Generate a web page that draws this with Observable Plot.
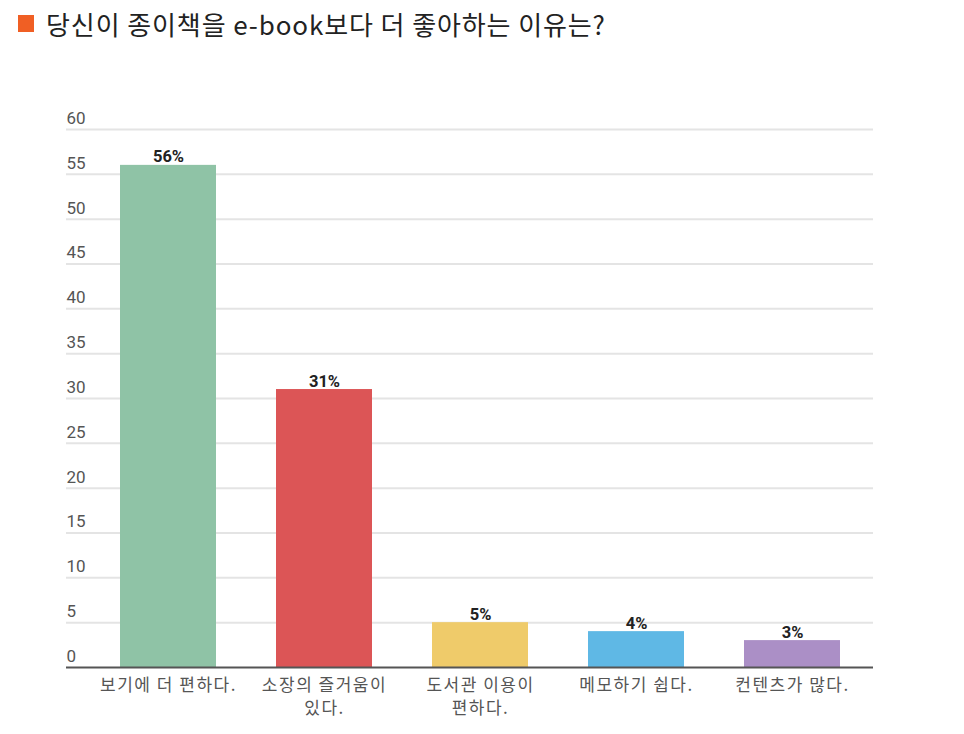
<!DOCTYPE html>
<html>
<head>
<meta charset="utf-8">
<script src="https://cdn.jsdelivr.net/npm/d3@7"></script>
<script src="https://cdn.jsdelivr.net/npm/@observablehq/plot@0.6"></script>
<style>
  body { margin: 0; background: #fff; font-family: "Noto Sans CJK KR", "Noto Sans", sans-serif; }
  .title { height: 46px; display: flex; align-items: center; padding-left: 18px; box-sizing: border-box; }
  .title .sq { width: 16px; height: 17px; background: #f05f24; margin-right: 12px; flex: none; }
  .title span { font-size: 26px; color: #222; letter-spacing: 0.9px; }
  .chart-container { width: 964px; height: 688px; }
  .chart-container g[aria-label="x-axis tick label"] text { letter-spacing: 1.5px; }
</style>
</head>
<body>
<div class="title"><div class="sq"></div><span>당신이 종이책을 e-book보다 더 좋아하는 이유는?</span></div>
<div class="chart-container"></div>
<script>
// Chart data
var categories = ["보기에 더 편하다.", "소장의 즐거움이 있다.", "도서관 이용이 편하다.", "메모하기 쉽다.", "컨텐츠가 많다."];
var tickLabels = ["보기에 더 편하다.", "소장의 즐거움이\n있다.", "도서관 이용이\n편하다.", "메모하기 쉽다.", "컨텐츠가 많다."];
var values = [56, 31, 5, 4, 3];
var colors = ["#8fc3a6", "#dc5556", "#efcb6a", "#5fb8e5", "#ab8fc6"];
var yTicks = [0, 5, 10, 15, 20, 25, 30, 35, 40, 45, 50, 55, 60];

function renderBars() {
    var container = document.querySelector('.chart-container');
    container.innerHTML = '';

    var data = categories.map(function(c, i) {
        return { category: c, value: values[i], color: colors[i] };
    });

    var plot = Plot.plot({
        width: 964,
        height: 688,
        marginTop: 83,
        marginBottom: 67,
        marginLeft: 89,
        marginRight: 93,
        style: { fontFamily: "Roboto, 'Noto Sans CJK KR', sans-serif", background: "#fff" },
        x: { domain: categories, paddingInner: 0.387, paddingOuter: 0.1935, label: null },
        y: { domain: [0, 60], label: null },
        marks: [
            Plot.ruleY(yTicks.slice(1), { stroke: "#e4e4e4", strokeWidth: 2, insetLeft: -23, insetRight: -2 }),
            Plot.axisY(yTicks, {
                tickSize: 0, tickPadding: 23, textAnchor: "start", dy: -11,
                fontSize: 17, fill: "#555", label: null
            }),
            Plot.barY(data, { x: "category", y: "value", fill: "color" }),
            Plot.text(data, {
                x: "category", y: "value", text: function(d) { return d.value + "%"; },
                lineAnchor: "bottom", dy: -3, fontSize: 16.5, fontWeight: "bold", fill: "#222"
            }),
            Plot.ruleY([0], { stroke: "#555", strokeWidth: 2, insetLeft: -23, insetRight: -2 }),
            Plot.axisX({
                tickSize: 0, tickPadding: 7, fontSize: 17, fill: "#555", lineHeight: 1.35,
                fontFamily: "'Noto Sans CJK KR', sans-serif",
                tickFormat: function(c) { return tickLabels[categories.indexOf(c)]; },
                label: null
            })
        ]
    });

    container.appendChild(plot);
}

renderBars();
</script>
</body>
</html>
